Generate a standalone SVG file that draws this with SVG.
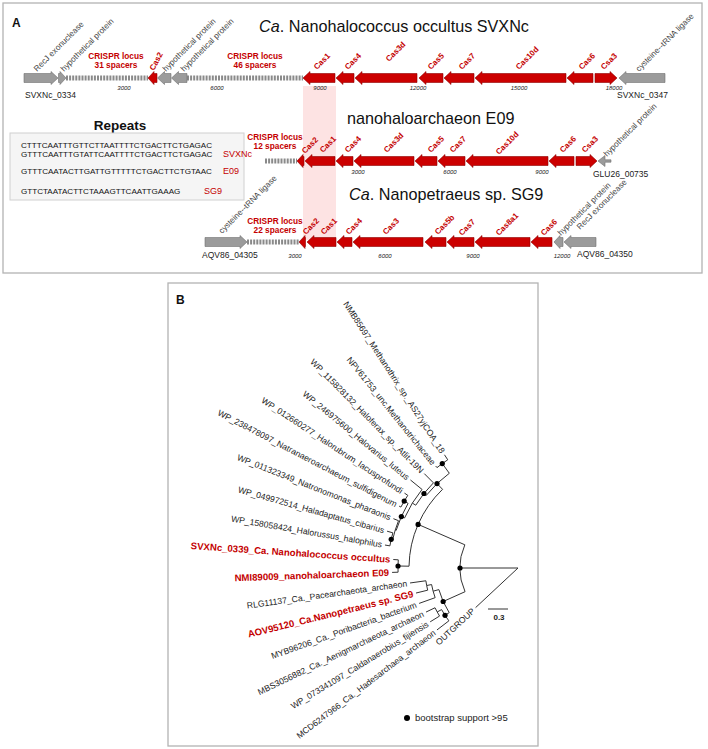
<svg xmlns="http://www.w3.org/2000/svg" width="708" height="749" viewBox="0 0 708 749">
<style>
text{font-family:"Liberation Sans",Arial,sans-serif}
.box{fill:#fff;stroke:#b3b3b3;stroke-width:1.3}
.g{fill:#9b9b9b;stroke:#707070;stroke-width:0.6}
.r{fill:#cc0000;stroke:#8e0000;stroke-width:0.6}
.cr{stroke:#8a8a8a;stroke-width:5;stroke-dasharray:2 1.1;fill:none}
.gl{font-size:8.2px;fill:#444}
.rl{font-size:8px;font-weight:bold;fill:#c40000}
.ax{font-size:6px;font-style:italic;fill:#222;text-anchor:middle}
.id{font-size:8.5px;fill:#222}
.ttl{font-size:16.2px;fill:#111}
.loc{font-size:8.3px;font-weight:bold;fill:#c40000;text-anchor:middle}
.seq{font-size:8.1px;fill:#111}
.tag{font-size:9px;fill:#c40000}
.br{stroke:#333;stroke-width:1;fill:none}
.tl{font-size:8.6px;fill:#222;text-anchor:end}
.tr{font-size:9.6px;font-weight:bold;fill:#c40000;text-anchor:end}
</style>

<!-- Panel A -->
<g id="panelA">
<rect class="box" x="3" y="3" width="699" height="270"/>
<text x="12" y="27" font-size="12" font-weight="bold" fill="#111">A</text>
<rect id="highlight" x="303" y="86" width="33" height="154" fill="#fde3e3"/>
</g>

<g id="repeats">
<text x="120" y="130" font-size="13.5" font-weight="bold" fill="#111" text-anchor="middle">Repeats</text>
<rect x="10" y="133" width="234" height="67" fill="#f5f5f5" stroke="#d0d0d0" stroke-width="1"/>
<text class="seq" x="21" y="148">CTTTCAATTTGTTCTTAATTTTCTGACTTCTGAGAC</text>
<text class="seq" x="21" y="157">GTTTCAATTTGTATTCAATTTTCTGACTTCTGAGAC</text>
<text class="tag" x="223" y="157">SVXNc</text>
<text class="seq" x="21" y="174">GTTTCAATACTTGATTGTTTTTCTGACTTCTGTAAC</text>
<text class="tag" x="223" y="174">E09</text>
<text class="seq" x="21" y="194">GTTCTAATACTTCTAAAGTTCAATTGAAAG</text>
<text class="tag" x="204" y="194">SG9</text>
</g>

<!-- Row 1 -->
<g id="locus-SVXNc">
<text class="ttl" x="259" y="32"><tspan font-style="italic">Ca</tspan>. Nanohalococcus occultus SVXNc</text>
<line class="cr" x1="66" y1="78" x2="148" y2="78"/>
<line class="cr" x1="187" y1="78" x2="303" y2="78"/>
<path class="g" d="M24 73.5H51V71.5L58 78L51 84.5V82.5H24Z"/>
<path class="g" d="M58.5 73.5H60V71.5L66 78L60 84.5V82.5H58.5Z"/>
<path class="r" d="M157 73.5H154V71.5L148 78L154 84.5V82.5H157Z"/>
<path class="g" d="M171 73.5H164.5V71.5L157.5 78L164.5 84.5V82.5H171Z"/>
<path class="g" d="M187 73.5H178.5V71.5L171.5 78L178.5 84.5V82.5H187Z"/>
<path class="r" d="M335 73.5H310V71.5L303 78L310 84.5V82.5H335Z"/>
<path class="r" d="M354 73.5H343V71.5L336 78L343 84.5V82.5H354Z"/>
<path class="r" d="M417 73.5H362V71.5L355 78L362 84.5V82.5H417Z"/>
<path class="r" d="M443 73.5H426V71.5L419 78L426 84.5V82.5H443Z"/>
<path class="r" d="M474 73.5H451V71.5L444 78L451 84.5V82.5H474Z"/>
<path class="r" d="M566 73.5H482V71.5L475 78L482 84.5V82.5H566Z"/>
<path class="r" d="M593 73.5H574V71.5L567 78L574 84.5V82.5H593Z"/>
<path class="r" d="M595 73.5H610V71.5L617 78L610 84.5V82.5H595Z"/>
<path class="g" d="M665 73.5H626V71.5L619 78L626 84.5V82.5H665Z"/>
<text class="loc" x="116" y="59">CRISPR locus</text>
<text class="loc" x="116" y="68">31 spacers</text>
<text class="loc" x="255" y="59">CRISPR locus</text>
<text class="loc" x="255" y="68">46 spacers</text>
<text class="gl" transform="translate(37,72) rotate(-45)">RecJ exonuclease</text>
<text class="gl" transform="translate(64,72) rotate(-45)">hypothetical protein</text>
<text class="rl" transform="translate(154,71) rotate(-62)">Cas2</text>
<text class="gl" transform="translate(166,72) rotate(-45)">hypothetical protein</text>
<text class="gl" transform="translate(184,72) rotate(-45)">hypothetical protein</text>
<text class="rl" transform="translate(317,70) rotate(-45)">Cas1</text>
<text class="rl" transform="translate(348,70) rotate(-45)">Cas4</text>
<text class="rl" transform="translate(389,62) rotate(-45)">Cas3d</text>
<text class="rl" transform="translate(431,70) rotate(-45)">Cas5</text>
<text class="rl" transform="translate(462,70) rotate(-45)">Cas7</text>
<text class="rl" transform="translate(519,70) rotate(-45)">Cas10d</text>
<text class="rl" transform="translate(582,70) rotate(-45)">Cas6</text>
<text class="rl" transform="translate(604,70) rotate(-45)">Csa3</text>
<text class="gl" transform="translate(639,72) rotate(-45)">cysteine--tRNA ligase</text>
<text class="ax" x="124" y="90">3000</text>
<text class="ax" x="217" y="90">6000</text>
<text class="ax" x="320" y="90">9000</text>
<text class="ax" x="418" y="90">12000</text>
<text class="ax" x="519" y="90">15000</text>
<text class="ax" x="614" y="90">18000</text>
<text class="id" x="25" y="98">SVXNc_0334</text>
<text class="id" x="617" y="98">SVXNc_0347</text>
</g>

<!-- Row 2 -->
<g id="locus-E09">
<text class="ttl" x="347" y="124">nanohaloarchaeon E09</text>
<line class="cr" x1="265" y1="161" x2="297" y2="161"/>
<path class="r" d="M304 156.5H303V154.5L297 161L303 167.5V165.5H304Z"/>
<path class="r" d="M335 156.5H312V154.5L305 161L312 167.5V165.5H335Z"/>
<path class="r" d="M353 156.5H343V154.5L336 161L343 167.5V165.5H353Z"/>
<path class="r" d="M414 156.5H361V154.5L354 161L361 167.5V165.5H414Z"/>
<path class="r" d="M437 156.5H422V154.5L415 161L422 167.5V165.5H437Z"/>
<path class="r" d="M465 156.5H445V154.5L438 161L445 167.5V165.5H465Z"/>
<path class="r" d="M548 156.5H473V154.5L466 161L473 167.5V165.5H548Z"/>
<path class="r" d="M574 156.5H556V154.5L549 161L556 167.5V165.5H574Z"/>
<path class="r" d="M576 156.5H590V154.5L597 161L590 167.5V165.5H576Z"/>
<path class="g" d="M611 159.8H605V155.5L598 161L605 166.5V162.2H611Z"/>
<text class="loc" x="275" y="140">CRISPR locus</text>
<text class="loc" x="275" y="149">12 spacers</text>
<text class="rl" transform="translate(305,154) rotate(-45)">Cas2</text>
<text class="rl" transform="translate(323,153) rotate(-45)">Cas1</text>
<text class="rl" transform="translate(348,153) rotate(-45)">Cas4</text>
<text class="rl" transform="translate(387,153) rotate(-45)">Cas3d</text>
<text class="rl" transform="translate(431,153) rotate(-45)">Cas5</text>
<text class="rl" transform="translate(453,153) rotate(-45)">Cas7</text>
<text class="rl" transform="translate(499,155) rotate(-45)">Cas10d</text>
<text class="rl" transform="translate(563,153) rotate(-45)">Cas6</text>
<text class="rl" transform="translate(585,153) rotate(-45)">Csa3</text>
<text class="gl" transform="translate(607,157) rotate(-45)">hypothetical protein</text>
<text class="ax" x="358" y="174">3000</text>
<text class="ax" x="450" y="174">6000</text>
<text class="ax" x="542" y="174">9000</text>
<text class="id" x="593" y="177">GLU26_00735</text>
</g>

<!-- Row 3 -->
<g id="locus-SG9">
<text class="ttl" x="349" y="200"><tspan font-style="italic">Ca</tspan>. Nanopetraeus sp. SG9</text>
<line class="cr" x1="247" y1="242" x2="299" y2="242"/>
<path class="g" d="M205 237.5H240V235.5L247 242L240 248.5V246.5H205Z"/>
<path class="r" d="M305.5 237.5H305V235.5L299 242L305 248.5V246.5H305.5Z"/>
<path class="r" d="M336 237.5H314V235.5L307 242L314 248.5V246.5H336Z"/>
<path class="r" d="M352 237.5H344V235.5L337 242L344 248.5V246.5H352Z"/>
<path class="r" d="M423 237.5H360V235.5L353 242L360 248.5V246.5H423Z"/>
<path class="r" d="M446 237.5H432V235.5L425 242L432 248.5V246.5H446Z"/>
<path class="r" d="M474 237.5H454V235.5L447 242L454 248.5V246.5H474Z"/>
<path class="r" d="M530 237.5H482V235.5L475 242L482 248.5V246.5H530Z"/>
<path class="r" d="M552 237.5H538V235.5L531 242L538 248.5V246.5H552Z"/>
<path class="g" d="M563 237.5H560V235.5L554 242L560 248.5V246.5H563Z"/>
<path class="g" d="M596 237.5H571V235.5L564 242L571 248.5V246.5H596Z"/>
<text class="loc" x="275" y="224">CRISPR locus</text>
<text class="loc" x="275" y="233">22 spacers</text>
<text class="gl" transform="translate(222,234) rotate(-45)">cysteine--tRNA ligase</text>
<text class="rl" transform="translate(306,235) rotate(-45)">Cas2</text>
<text class="rl" transform="translate(324,235) rotate(-45)">Cas1</text>
<text class="rl" transform="translate(349,235) rotate(-45)">Cas4</text>
<text class="rl" transform="translate(386,235) rotate(-45)">Cas3</text>
<text class="rl" transform="translate(438,235) rotate(-45)">Cas5b</text>
<text class="rl" transform="translate(462,236) rotate(-45)">Cas7</text>
<text class="rl" transform="translate(499,236) rotate(-45)">Cas8a1</text>
<text class="rl" transform="translate(544,236) rotate(-45)">Cas6</text>
<text class="gl" transform="translate(561,236) rotate(-45)">hypothetical protein</text>
<text class="gl" transform="translate(580,230) rotate(-45)">RecJ exonuclease</text>
<text class="ax" x="295" y="258">3000</text>
<text class="ax" x="385" y="258">6000</text>
<text class="ax" x="473" y="258">9000</text>
<text class="ax" x="562" y="258">12000</text>
<text class="id" x="202" y="258">AQV86_04305</text>
<text class="id" x="577" y="257">AQV86_04350</text>
</g>

<!-- Panel B -->
<g id="panelB">
<rect class="box" x="168" y="283" width="370" height="463"/>
<text x="176" y="304" font-size="12" font-weight="bold" fill="#111">B</text>
</g>

<g id="tree-branches">
<path class="br" d="M518 568L460 568M518 568L475.6 607.6
M465.06 591.70A58 58 0 0 1 464.84 544.79M464.84 544.79L418.10 524.39M465.06 591.70L443.16 601.51
M409.02 566.19A109 109 0 0 1 442.56 489.32M409.02 566.19L398.02 566.01M442.56 489.32L437.02 483.55
M426.30 495.35A117 117 0 0 1 449.32 473.28M426.30 495.35L423.94 493.49M449.32 473.28L442.28 463.56
M436.99 467.61A129 129 0 0 1 447.75 459.81M436.99 467.61L435.73 466.06M447.75 459.81L444.48 454.78
M415.75 505.19A120 120 0 0 1 433.45 482.85M433.45 482.85L424.29 473.62M415.75 505.19L412.34 503.10
M404.55 517.94A124 124 0 0 1 422.05 489.46M422.05 489.46L410.44 479.96M404.55 517.94L401.35 516.53
M396.19 530.35A127.5 127.5 0 0 1 408.08 503.38M408.08 503.38L404.20 501.10M396.19 530.35L395.23 530.05
M400.92 507.06A132 132 0 0 1 407.81 495.33M407.81 495.33L404.47 493.13M400.92 507.06L399.14 506.13
M392.67 539.64A128.5 128.5 0 0 1 398.52 520.70M398.52 520.70L393.41 518.67M392.67 539.64L391.21 539.31
M389.90 545.87A130 130 0 0 1 392.85 532.82M392.85 532.82L387.07 531.20M389.90 545.87L384.97 545.02
M398.07 572.19A120 120 0 0 1 398.28 559.84M398.28 559.84L393.29 559.50M398.07 572.19L392.08 572.40
M449.20 612.62A82 82 0 0 1 438.89 589.60M449.20 612.62L445.01 615.34M438.89 589.60L433.11 591.18
M435.15 597.66A88 88 0 0 1 431.58 584.56M435.15 597.66L419.14 603.40M431.58 584.56L426.66 585.50
M427.69 590.18A93 93 0 0 1 425.88 580.78M425.88 580.78L410.04 582.98M427.69 590.18L416.03 593.04
M448.89 620.84A87 87 0 0 1 441.58 609.59M448.89 620.84L436.97 629.95M441.58 609.59L437.19 611.98
M439.56 616.07A92 92 0 0 1 435.03 607.75M435.03 607.75L426.02 612.07M439.56 616.07L430.18 621.82"/>
</g>

<g id="tree-nodes" fill="#000">
<circle cx="442.28" cy="463.56" r="2.6"/>
<circle cx="437.02" cy="483.55" r="2.6"/>
<circle cx="423.94" cy="493.49" r="2.6"/>
<circle cx="404.20" cy="501.10" r="2.6"/>
<circle cx="401.35" cy="516.53" r="2.6"/>
<circle cx="418.10" cy="524.39" r="2.6"/>
<circle cx="391.21" cy="539.31" r="2.6"/>
<circle cx="398.02" cy="566.01" r="2.6"/>
<circle cx="460" cy="568" r="2.6"/>
<circle cx="443.16" cy="601.51" r="2.6"/>
<circle cx="445.01" cy="615.34" r="2.6"/>
</g>

<g id="tree-labels">
<text class="tl" dy="0.35em" transform="translate(442.85,452.26) rotate(57)">NMB85697_Methanothrix_sp._AS27yjCOA_18</text>
<text class="tl" dy="0.35em" transform="translate(433.85,463.72) rotate(51.1)">NPV61753_unc.Methanotrichaceae</text>
<text class="tl" dy="0.35em" transform="translate(422.17,471.49) rotate(45.2)">WP_115828132_Haloferax_sp._Atlit-19N</text>
<text class="tl" dy="0.35em" transform="translate(408.12,478.06) rotate(39.3)">WP_246975600_Halovarius_luteus</text>
<text class="tl" dy="0.35em" transform="translate(401.96,491.48) rotate(33.4)">WP_012660277_Halorubrum_lacusprofundi</text>
<text class="tl" dy="0.35em" transform="translate(396.48,504.75) rotate(27.5)">WP_238478097_Natranaeroarchaeum_sulfidigenum</text>
<text class="tl" dy="0.35em" transform="translate(390.62,517.57) rotate(21.6)">WP_011323349_Natronomonas_pharaonis</text>
<text class="tl" dy="0.35em" transform="translate(384.18,530.39) rotate(15.7)">WP_049972514_Haladaptatus_cibarius</text>
<text class="tl" dy="0.35em" transform="translate(382.01,544.51) rotate(9.8)">WP_158058424_Halorussus_halophilus</text>
<text class="tr" dy="0.35em" transform="translate(390.29,559.30) rotate(3.9)">SVXNc_0339_Ca. Nanohalococcus occultus</text>
<text class="tr" dy="0.35em" transform="translate(389.08,572.50) rotate(-2)">NMI89009_nanohaloarchaeon E09</text>
<text class="tl" dy="0.35em" transform="translate(407.06,583.39) rotate(-7.9)">RLG11137_Ca._Pacearchaeota_archaeon</text>
<text class="tr" dy="0.35em" transform="translate(413.12,593.76) rotate(-13.8)">AOV95120_Ca.Nanopetraeus sp. SG9</text>
<text class="tl" dy="0.35em" transform="translate(416.32,604.41) rotate(-19.7)">MYB96206_Ca._Poribacteria_bacterium</text>
<text class="tl" dy="0.35em" transform="translate(423.31,613.37) rotate(-25.6)">MBS3056882_Ca._Aenigmarchaeota_archaeon</text>
<text class="tl" dy="0.35em" transform="translate(427.62,623.39) rotate(-31.5)">WP_073341097_Caldanaerobius_fijiensis</text>
<text class="tl" dy="0.35em" transform="translate(434.59,631.78) rotate(-37.4)">MCD6247966_Ca._Hadesarchaea_archaeon</text>
<text class="tl" dy="0.35em" transform="translate(473.38,609.60) rotate(-43)">OUTGROUP</text>
</g>

<g id="scale-bar">
<line x1="488" y1="609" x2="508" y2="609" stroke="#333" stroke-width="1"/>
<text x="499" y="620" font-size="8" font-weight="bold" fill="#222" text-anchor="middle">0.3</text>
</g>

<g id="legend">
<circle cx="407" cy="718" r="3" fill="#000"/>
<text x="415" y="721" font-size="9.5" fill="#222">bootstrap support &gt;95</text>
</g>
</svg>
